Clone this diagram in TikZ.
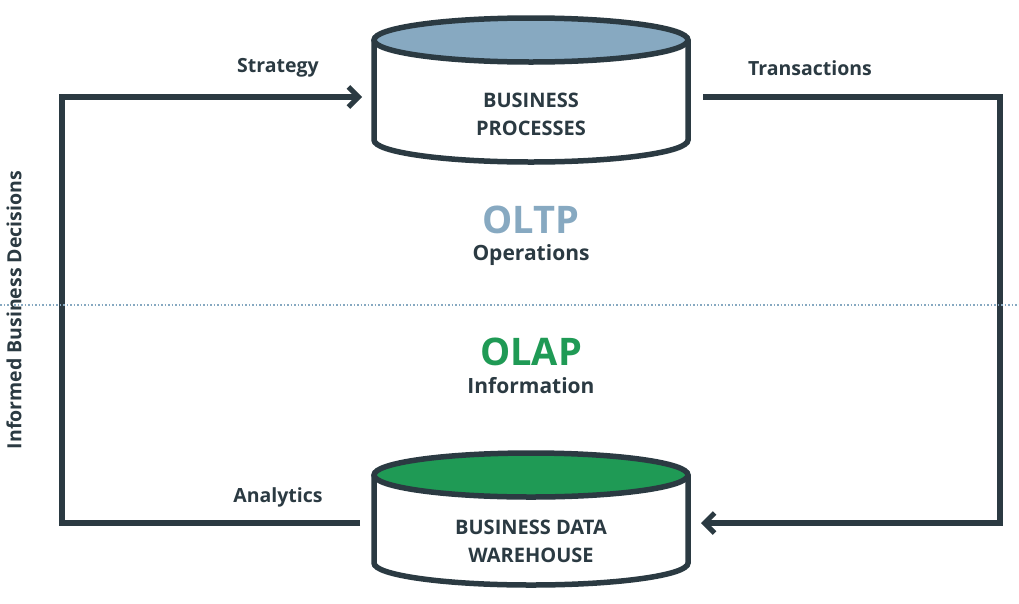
\documentclass[tikz,border=0pt]{standalone}
\usepackage{fontspec}
\setmainfont{Open Sans}
\usetikzlibrary{arrows.meta}
\definecolor{dk}{HTML}{2B3A42}
\definecolor{bl}{HTML}{87A9C1}
\definecolor{gr}{HTML}{1F9A55}
\begin{document}
\begin{tikzpicture}[x=1pt,y=-1pt,
  ln/.style={draw=dk,line width=5.5pt},
  arr/.style={ln,-{Straight Barb[length=10pt,width=20pt,line width=5pt]}},
  lbl/.style={text=dk,font=\bfseries\fontsize{19.5}{22}\selectfont},
  cyl/.style={text=dk,font=\bfseries\fontsize{20}{28}\selectfont,align=center}]
\useasboundingbox (0,0) rectangle (1019,603);
% top cylinder
\draw[ln,fill=white] (374,40) -- (374,140) arc[start angle=180,end angle=0,x radius=157,y radius=22] -- (688,40);
\draw[ln,fill=bl] (531,40) ellipse[x radius=157,y radius=22];
\node[cyl] (bp) at (531,114) {BUSINESS\\PROCESSES};
% bottom cylinder
\draw[ln,fill=white] (374,475) -- (374,563) arc[start angle=180,end angle=0,x radius=157,y radius=22] -- (688,475);
\draw[ln,fill=gr] (531,475) ellipse[x radius=157,y radius=22];
\node[cyl] (dw) at (531,541) {BUSINESS DATA\\WAREHOUSE};
% connectors
\coordinate (a1) at (360,523); \coordinate (a2) at (62,523); \coordinate (a3) at (62,97); \coordinate (a4) at (362,97);
\draw[arr,line join=miter] (a1) -- (a2) -- (a3) -- (a4);
\coordinate (b1) at (703,97); \coordinate (b2) at (1000,97); \coordinate (b3) at (1000,523); \coordinate (b4) at (701,523);
\draw[arr,line join=miter] (b1) -- (b2) -- (b3) -- (b4);
% dotted line
\coordinate (d1) at (0,305); \coordinate (d2) at (1019,305);
\draw[bl,line width=1.5pt,dotted] (d1) -- (d2);
% labels
\node[lbl] (s) at (278,68) {Strategy};
\node[lbl] (t) at (810,68) {Transactions};
\node[lbl] (an) at (278,497) {Analytics};
\node[lbl,rotate=90] (ib) at (14,310) {Informed Business Decisions};
\node[text=bl,font=\bfseries\fontsize{38}{42}\selectfont] (oltp) at (531,220) {OLTP};
\node[lbl,font=\bfseries\fontsize{21}{24}\selectfont] (op) at (531,255) {Operations};
\node[text=gr,font=\bfseries\fontsize{38}{42}\selectfont] (olap) at (531,352) {OLAP};
\node[lbl,font=\bfseries\fontsize{21}{24}\selectfont] (inf) at (531,386) {Information};
\end{tikzpicture}
\end{document}
